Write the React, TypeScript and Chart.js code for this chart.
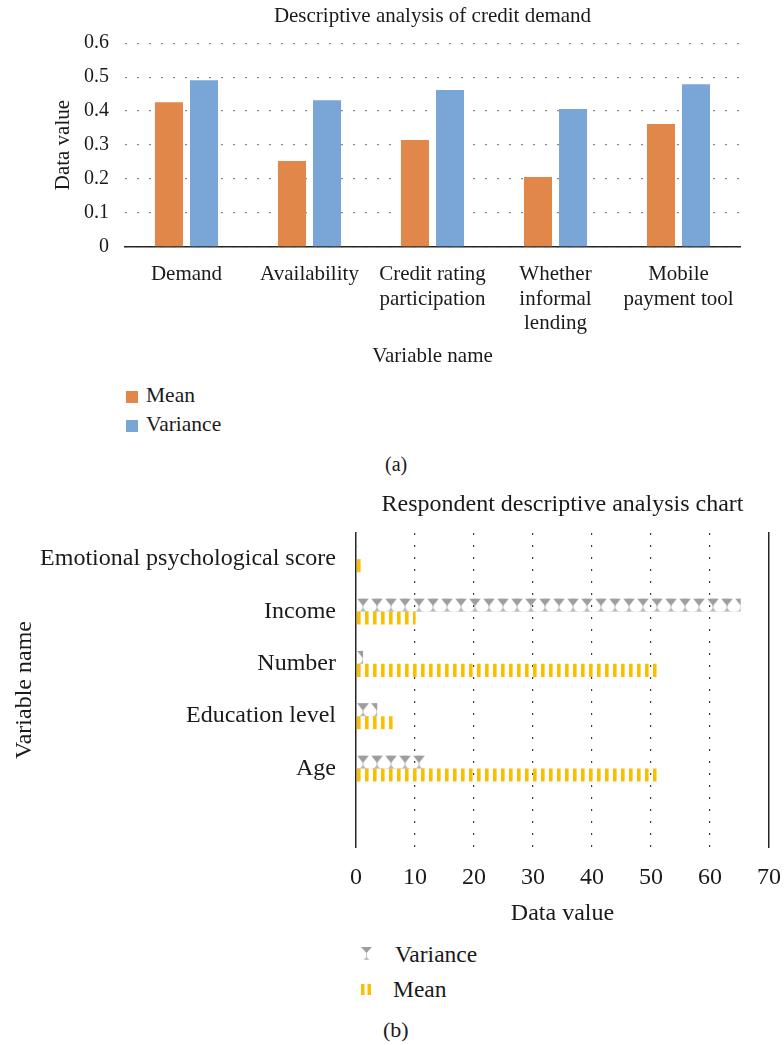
import React, { useEffect, useRef } from 'react';
import { Chart, registerables } from 'chart.js';

Chart.register(...registerables);

// ---------- Data: chart (a) ----------
const creditCategories: (string | string[])[] = [
  'Demand',
  'Availability',
  ['Credit rating', 'participation'],
  ['Whether', 'informal', 'lending'],
  ['Mobile', 'payment tool'],
];
const creditMean = [0.426, 0.253, 0.315, 0.206, 0.362];
const creditVariance = [0.491, 0.432, 0.462, 0.406, 0.479];
const creditAxisMin = 0;
const creditAxisMax = 0.6;
const creditAxisStep = 0.1;

// ---------- Data: chart (b) ----------
const respondentCategories = [
  'Emotional psychological score',
  'Income',
  'Number',
  'Education level',
  'Age',
  '',
];
const respondentVariance = [0.3, 65.2, 1.2, 3.6, 12.1];
const respondentMean = [1.2, 10.1, 51, 6.5, 51];
const respondentAxisMin = 0;
const respondentAxisMax = 70;
const respondentAxisStep = 10;

const FONT = "'Liberation Serif', 'Times New Roman', Times, serif";
const TEXT = '#1a1a1a';
const ORANGE = '#e2874a';
const BLUE = '#79a6d6';
const YELLOW = '#fbbf00';
const GRAY = '#9e9e9e';

function makeVarianceTile(): HTMLCanvasElement {
  const c = document.createElement('canvas');
  c.width = 14;
  c.height = 13;
  const g = c.getContext('2d')!;
  g.fillStyle = GRAY;
  g.beginPath();
  g.moveTo(1, 0);
  g.lineTo(13, 0);
  g.lineTo(7, 7.5);
  g.closePath();
  g.fill();
  g.strokeStyle = '#bdbdbd';
  g.lineWidth = 1;
  g.beginPath();
  g.moveTo(7, 7);
  g.lineTo(7, 11);
  g.stroke();
  g.fillStyle = '#b8b8b8';
  g.beginPath();
  g.moveTo(4, 13);
  g.lineTo(10, 13);
  g.lineTo(7, 9.5);
  g.closePath();
  g.fill();
  return c;
}

function makeMeanTile(): HTMLCanvasElement {
  const c = document.createElement('canvas');
  c.width = 8;
  c.height = 4;
  const g = c.getContext('2d')!;
  g.fillStyle = YELLOW;
  g.fillRect(0, 0, 3.6, 4);
  return c;
}

const abs = (left: number, centerY: number, size: number, extra: React.CSSProperties = {}): React.CSSProperties => ({
  position: 'absolute',
  left,
  top: centerY - size * 0.6,
  fontSize: size,
  lineHeight: `${size * 1.2}px`,
  whiteSpace: 'nowrap',
  ...extra,
});

export default function App() {
  const refA = useRef<HTMLCanvasElement>(null);
  const refB = useRef<HTMLCanvasElement>(null);

  useEffect(() => {
    // ---------- Chart (a) ----------
    const chartA = new Chart(refA.current!, {
      type: 'bar',
      data: {
        labels: creditCategories as any,
        datasets: [
          { label: 'Mean', data: creditMean, backgroundColor: ORANGE, borderWidth: 0 },
          { label: 'Variance', data: creditVariance, backgroundColor: BLUE, borderWidth: 0 },
        ],
      },
      options: {
        responsive: false,
        animation: false,
        events: [],
        datasets: { bar: { categoryPercentage: 0.57, barPercentage: 0.8 } },
        layout: { padding: { left: 0, right: 44, top: 0, bottom: 0 } },
        plugins: {
          legend: { display: false },
          tooltip: { enabled: false },
          title: {
            display: true,
            text: 'Descriptive analysis of credit demand',
            fullSize: false,
            color: TEXT,
            font: { family: FONT, size: 21, weight: 'normal' },
            padding: { top: 4, bottom: 14 },
          },
        },
        scales: {
          x: {
            grid: { display: false, drawTicks: false },
            border: { display: true, color: '#262626', width: 1.5 },
            ticks: {
              color: TEXT,
              font: { family: FONT, size: 21, lineHeight: 1.19 },
              padding: 14.5,
              maxRotation: 0,
              autoSkip: false,
            },
            title: {
              display: true,
              text: 'Variable name',
              color: TEXT,
              font: { family: FONT, size: 21 },
              padding: { top: 0, bottom: 3.4 },
            },
            afterFit: (s: any) => {
              s.height = 125;
            },
          },
          y: {
            min: creditAxisMin,
            max: creditAxisMax,
            ticks: {
              stepSize: creditAxisStep,
              color: TEXT,
              font: { family: FONT, size: 20 },
              padding: 16,
            },
            grid: { color: '#8a8a8a', lineWidth: 1.3, drawTicks: false },
            border: { display: false, dash: [2, 10] },
            title: {
              display: true,
              text: 'Data value',
              color: TEXT,
              font: { family: FONT, size: 21 },
              padding: { top: 51, bottom: 0 },
            },
            afterFit: (s: any) => {
              s.width = 125;
            },
          },
        },
      } as any,
    });

    // ---------- Chart (b) ----------
    const canvasB = refB.current!;
    const ctxB = canvasB.getContext('2d')!;
    const varTile = makeVarianceTile();
    const varPatterns = respondentVariance.map(() => ctxB.createPattern(varTile, 'repeat')!);
    const meanPattern = ctxB.createPattern(makeMeanTile(), 'repeat')!;

    const patternAlign = {
      id: 'patternAlign',
      beforeDatasetsDraw(chart: any) {
        const left = chart.chartArea.left;
        meanPattern.setTransform(new DOMMatrix([1, 0, 0, 1, left + 1, 0]));
        const meta = chart.getDatasetMeta(0);
        meta.data.forEach((el: any, i: number) => {
          const p = varPatterns[i];
          if (!p) return;
          const { y, height } = el.getProps(['y', 'height'], true);
          p.setTransform(new DOMMatrix([1, 0, 0, 1, left, y - height / 2]));
        });
      },
    };

    const chartB = new Chart(canvasB, {
      type: 'bar',
      data: {
        labels: respondentCategories,
        datasets: [
          {
            label: 'Variance',
            data: respondentVariance,
            backgroundColor: (c: any) => varPatterns[c.dataIndex] || GRAY,
            borderWidth: 0,
          },
          { label: 'Mean', data: respondentMean, backgroundColor: meanPattern, borderWidth: 0 },
        ],
      },
      plugins: [patternAlign],
      options: {
        indexAxis: 'y',
        responsive: false,
        animation: false,
        events: [],
        datasets: { bar: { categoryPercentage: 0.5, barPercentage: 1 } },
        layout: { padding: { left: 0, right: 15, top: 0, bottom: 0 } },
        plugins: {
          legend: { display: false },
          tooltip: { enabled: false },
          title: {
            display: true,
            text: 'Respondent descriptive analysis chart',
            fullSize: false,
            color: TEXT,
            font: { family: FONT, size: 24, weight: 'normal' },
            padding: { top: 10.6, bottom: 13.6 },
          },
        },
        scales: {
          x: {
            min: respondentAxisMin,
            max: respondentAxisMax,
            ticks: {
              stepSize: respondentAxisStep,
              color: TEXT,
              font: { family: FONT, size: 24 },
              padding: 16.6,
            },
            grid: {
              color: (c: any) =>
                c.tick && (c.tick.value === respondentAxisMin || c.tick.value === respondentAxisMax)
                  ? 'rgba(0,0,0,0)'
                  : '#3a3a3a',
              lineWidth: 1.2,
              drawTicks: false,
            },
            border: { display: false, dash: [2, 10] },
            title: {
              display: true,
              text: 'Data value',
              color: TEXT,
              font: { family: FONT, size: 24 },
              padding: { top: 0, bottom: 1.6 },
            },
            afterFit: (s: any) => {
              s.height = 83;
              s.paddingLeft = 0;
              s.paddingRight = 0;
            },
          },
          y: {
            ticks: {
              color: TEXT,
              font: { family: FONT, size: 24 },
              padding: 20,
              autoSkip: false,
            },
            grid: { display: false, drawTicks: false },
            border: { display: true, color: '#262626', width: 1.5 },
            title: {
              display: true,
              text: 'Variable name',
              color: TEXT,
              font: { family: FONT, size: 24 },
              padding: { top: 10.6, bottom: 0 },
            },
            afterFit: (s: any) => {
              s.width = 356;
            },
          },
          y2: {
            type: 'linear',
            axis: 'y',
            position: 'right',
            min: 0,
            max: 1,
            ticks: { display: false },
            grid: { display: false, drawTicks: false },
            border: { display: true, color: '#262626', width: 1.5 },
            afterFit: (s: any) => {
              s.width = 0;
            },
          },
        },
      } as any,
    });

    return () => {
      chartA.destroy();
      chartB.destroy();
    };
  }, []);

  return (
    <div
      style={{
        position: 'absolute',
        left: 0,
        top: 0,
        width: 784,
        height: 1045,
        background: '#fff',
        fontFamily: FONT,
        color: TEXT,
        overflow: 'hidden',
      }}
    >
      <canvas ref={refA} width={784} height={372} style={{ position: 'absolute', left: 0, top: 0 }} />

      {/* Legend (a) */}
      <div style={{ position: 'absolute', left: 126, top: 391, width: 12, height: 12, background: ORANGE }} />
      <div style={abs(146, 396, 21.5)}>Mean</div>
      <div style={{ position: 'absolute', left: 126, top: 420, width: 12, height: 12, background: BLUE }} />
      <div style={abs(146, 425, 21.5)}>Variance</div>
      <div style={abs(385, 464, 20)}>(a)</div>

      <canvas ref={refB} width={784} height={450} style={{ position: 'absolute', left: 0, top: 480 }} />

      {/* Legend (b) */}
      <svg style={{ position: 'absolute', left: 360, top: 947 }} width={13} height={13} viewBox="0 0 13 13">
        <polygon points="1,0 12,0 6.5,6" fill={GRAY} />
        <line x1="6.5" y1="6" x2="6.5" y2="11" stroke="#c8c8c8" strokeWidth="1" />
        <polygon points="3.5,13 9.5,13 6.5,9.5" fill="#c2c2c2" />
      </svg>
      <div style={abs(395, 954, 23.5)}>Variance</div>
      <svg style={{ position: 'absolute', left: 361, top: 984 }} width={11} height={11} viewBox="0 0 11 11">
        <rect x="0" y="0" width="3.5" height="11" fill={YELLOW} />
        <rect x="6.5" y="0" width="3.5" height="11" fill={YELLOW} />
      </svg>
      <div style={abs(393, 989, 23.5)}>Mean</div>
      <div style={abs(383, 1030, 22)}>(b)</div>
    </div>
  );
}
